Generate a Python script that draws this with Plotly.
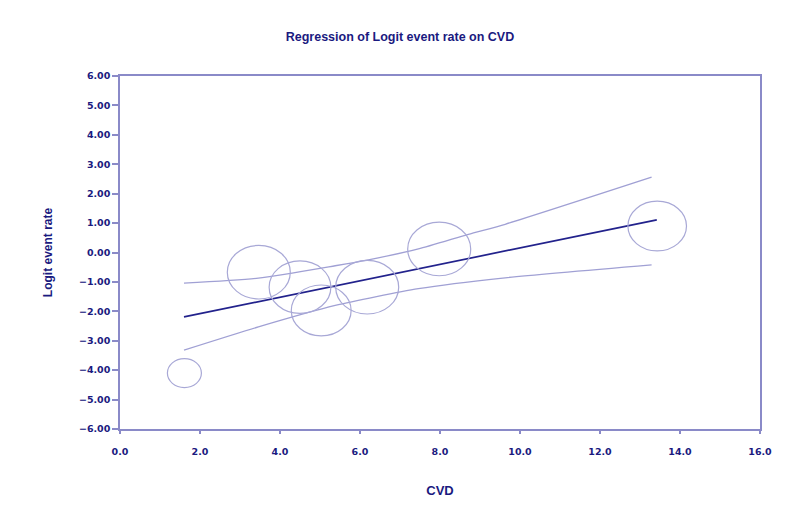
import plotly.graph_objects as go

# ---- data ----
study_cvd = [1.61, 3.47, 4.50, 5.03, 6.18, 7.98, 13.43]
study_logit = [-4.10, -0.67, -1.18, -1.97, -1.18, 0.12, 0.90]
study_weight = [0.54, 1.00, 0.98, 0.95, 1.00, 1.00, 0.93]   # relative bubble size

reg_x = [1.6, 13.42]
reg_y = [-2.19, 1.11]

ci_upper_x = [1.6, 3.46, 5.38, 6.21, 7.46, 8.71, 9.63, 13.29]
ci_upper_y = [-1.04, -0.87, -0.45, -0.25, 0.12, 0.62, 0.96, 2.56]
ci_lower_x = [1.6, 3.46, 5.38, 7.46, 9.63, 13.29]
ci_lower_y = [-3.32, -2.53, -1.80, -1.23, -0.86, -0.42]

x_ticks = [0, 2, 4, 6, 8, 10, 12, 14, 16]
y_ticks = [6, 5, 4, 3, 2, 1, 0, -1, -2, -3, -4, -5, -6]

NAVY = "#1a1a80"
AXIS = "#8a8ac8"
BUBBLE = "#a8a8d6"
CI = "#a0a0d4"
REG = "#22228c"

fig = go.Figure()

fig.add_trace(go.Scatter(x=study_cvd, y=study_logit, mode="markers",
                         marker=dict(size=1, color="rgba(0,0,0,0)"),
                         showlegend=False, hoverinfo="x+y"))

fig.add_trace(go.Scatter(x=ci_upper_x, y=ci_upper_y, mode="lines",
                         line=dict(color=CI, width=1.3, shape="spline", smoothing=0.6),
                         showlegend=False))
fig.add_trace(go.Scatter(x=ci_lower_x, y=ci_lower_y, mode="lines",
                         line=dict(color=CI, width=1.3, shape="spline", smoothing=0.6),
                         showlegend=False))
fig.add_trace(go.Scatter(x=reg_x, y=reg_y, mode="lines",
                         line=dict(color=REG, width=1.7),
                         showlegend=False))

R = 31.5
for cx, cy, w in zip(study_cvd, study_logit, study_weight):
    rx = R * w
    ry = rx * 0.85
    fig.add_shape(type="circle", xref="x", yref="y",
                  xsizemode="pixel", ysizemode="pixel",
                  xanchor=cx, yanchor=cy,
                  x0=-rx, x1=rx, y0=-ry, y1=ry,
                  line=dict(color=BUBBLE, width=1.2),
                  fillcolor="rgba(0,0,0,0)")

tick_font = dict(family="DejaVu Sans", size=9.5, color=NAVY, weight="bold")

fig.update_layout(
    width=800, height=508,
    paper_bgcolor="white", plot_bgcolor="white",
    margin=dict(l=120, r=40, t=76, b=77),
    title=dict(text="<b>Regression of Logit event rate on CVD</b>",
               x=0.5, xanchor="center", y=1 - 37 / 508, yanchor="middle",
               font=dict(family="Liberation Sans", size=12.5, color=NAVY)),
    xaxis=dict(range=[0, 16], tickvals=x_ticks, tickformat=".1f",
               showgrid=False, zeroline=False,
               showline=True, linecolor=AXIS, linewidth=1.5, mirror=True,
               ticks="outside", ticklen=3, tickcolor=AXIS, tickwidth=1.5,
               ticklabelstandoff=10,
               tickfont=tick_font,
               title=dict(text="<b>CVD</b>", standoff=30,
                          font=dict(family="Liberation Sans", size=13, color=NAVY))),
    yaxis=dict(range=[-6, 6], tickvals=y_ticks, tickformat=".2f",
               showgrid=False, zeroline=False,
               showline=True, linecolor=AXIS, linewidth=1.5, mirror=True,
               ticks="outside", ticklen=6, tickcolor=AXIS, tickwidth=1.5,
               tickfont=tick_font,
               title=dict(text="<b>Logit event rate</b>", standoff=24,
                          font=dict(family="Liberation Sans", size=12, color=NAVY))),
)

fig.write_html("out.html", config={"displayModeBar": False},
               post_script="document.body.style.margin='0';")
